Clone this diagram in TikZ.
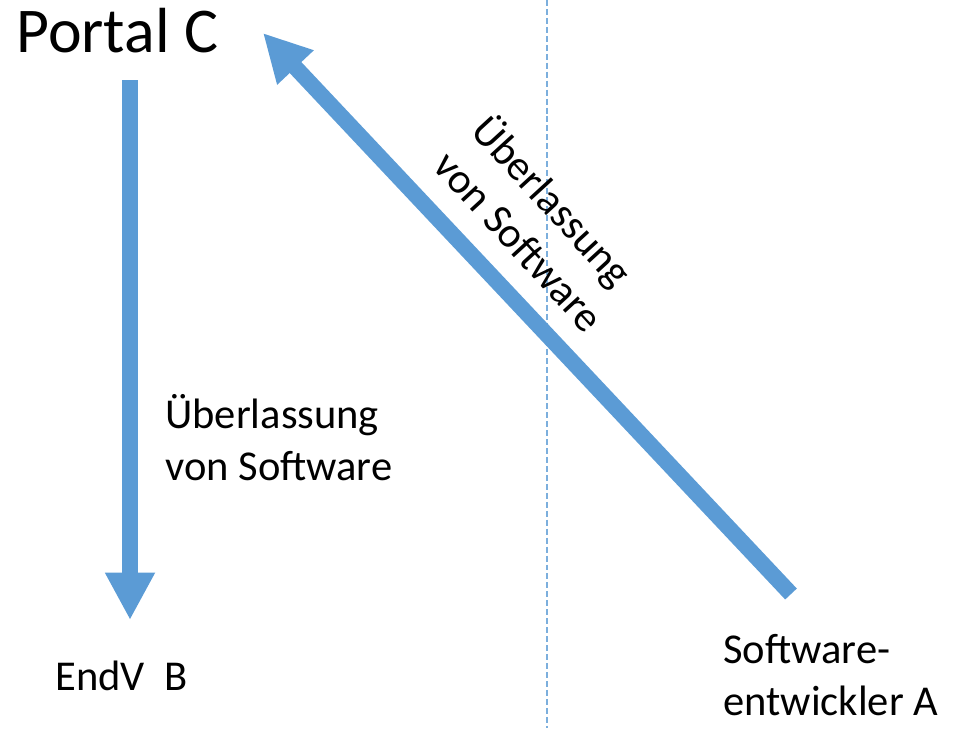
\documentclass[tikz,border=0pt]{standalone}
\usepackage{fontspec}
\setmainfont{Carlito}
\usetikzlibrary{arrows.meta}
\definecolor{blue}{RGB}{91,155,213}

\begin{document}
\begin{tikzpicture}[x=0.02cm,y=-0.02cm]
			\tikzset{line/.style={draw,line width=0.6pt}}
			\tikzset{arrow/.style={draw,blue,line width=9.1pt,-{Triangle[length=27pt,width=26.6pt]}}}
			\tikzset{txt/.style={inner sep=0pt,align=left,font=\fontsize{24.2}{29.5}\selectfont}}
			\tikzset{title/.style={inner sep=0pt,font=\fontsize{36.3}{43}\selectfont}}

			\useasboundingbox (0,0) rectangle (960,728);

			% divider
			\coordinate (divtop) at (547,0);
			\coordinate (divbot) at (547,728);
			\path[line, blue!80, dash pattern=on 3.4pt off 1.7pt] (divtop) to (divbot);

			\node[title,anchor=base west] (portal) at (16,52) {Portal C};
			\node[txt,anchor=base west] (endv) at (55,690) {EndV\ \ B};
			\node[txt,anchor=base west] (dev) at (723,715) {Software-\\entwickler A};

			\node[txt,anchor=base west] (lblv) at (165,480) {Überlassung\\von Software};
			\node[txt,anchor=center,rotate=-47.5] (lbld) at (540,222) {Überlassung\\von Software};

			\coordinate (vtop) at (130,80);
			\coordinate (vtip) at (130,620);
			\coordinate (dtail) at (791,594);
			\coordinate (dtip) at (263,33);

			\path[arrow] (vtop) to (vtip);
			\path[arrow] (dtail) to (dtip);
		\end{tikzpicture}
\end{document}
